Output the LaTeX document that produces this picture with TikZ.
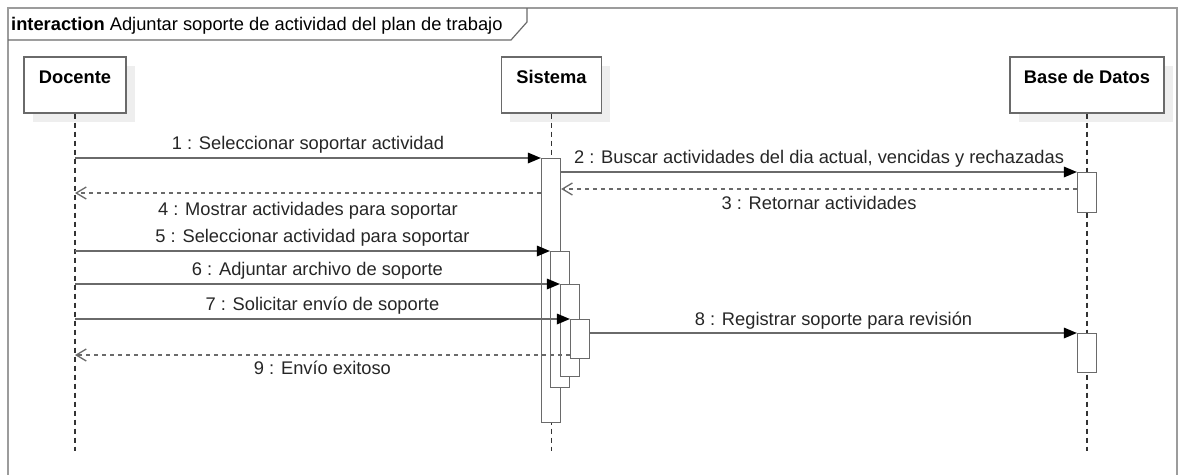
\documentclass[tikz,border=0pt]{standalone}
\usepackage{fontspec}
\setmainfont{Liberation Sans}
\usetikzlibrary{arrows.meta,calc}
\definecolor{ln}{HTML}{6A6A6A}
\definecolor{fr}{HTML}{9C9C9C}
\definecolor{sh}{HTML}{EEEEEE}
\begin{document}
\begin{tikzpicture}[x=1pt,y=-1pt,
  font=\fontsize{18.3}{21}\selectfont,
  head/.style={draw=ln, line width=1.3pt, fill=white, minimum height=56pt, inner sep=0pt,
    text height=13pt, text depth=16pt, font=\fontsize{18.3}{21}\selectfont\bfseries},
  act/.style={draw=ln, line width=1.3pt, fill=white, minimum width=19pt, inner sep=0pt, anchor=north},
  life/.style={draw=black!80, line width=1.2pt, dash pattern=on 5pt off 4pt},
  msg/.style={draw=ln, line width=1.5pt, -{Triangle[length=13pt,width=11pt,black,line width=0pt]}},
  ret/.style={draw=ln, line width=1.3pt, dash pattern=on 4pt off 4pt, -{Straight Barb[length=10pt,width=12pt,ln]}},
  lbl/.style={inner sep=0pt, text height=13pt, text depth=0pt, anchor=center, text=black!85}]
\useasboundingbox (0,0) rectangle (1178,474);
% frame
\draw[fr, line width=1.3pt] (8,8) rectangle (1177,495);
\draw[ln, line width=1.2pt] (8,40) -- (511,40) -- (527,22) -- (527,8);
\node[anchor=west, inner sep=0pt, text height=13pt, text depth=0pt] (title) at (11,24)
  {\textbf{interaction} Adjuntar soporte de actividad del plan de trabajo};
% shadows
\fill[sh] (33,66) rectangle (135,122);
\fill[sh] (510,66) rectangle (610,122);
\fill[sh] (1019,66) rectangle (1173,122);
% heads
\node[head, minimum width=102pt] (doc) at (75,85) {Docente};
\node[head, minimum width=100pt] (sis) at (551.5,85) {Sistema};
\node[head, minimum width=154pt] (bd) at (1087,85) {Base de Datos};
\coordinate (docE) at (75,451);
\coordinate (sisE) at (551.5,451);
\coordinate (bdE) at (1087,451);
\draw[life] (doc.south) -- (docE);
\draw[life] (sis.south) -- (sisE);
\draw[life] (bd.south) -- (bdE);
% activations
\node[act, minimum height=264pt] (A1) at (551,158) {};
\node[act, minimum height=136pt] (A2) at (560,251) {};
\node[act, minimum height=92pt] (A3) at (570,284) {};
\node[act, minimum height=39pt] (A4) at (580,319) {};
\node[act, minimum height=40pt] (B1) at (1087,172) {};
\node[act, minimum height=39pt] (B2) at (1087,333) {};
\coordinate (y3) at (0,189);
\coordinate (y4) at (0,193);
\coordinate (y9) at (0,355);
% messages
\draw[msg] (doc.south |- A1.north) -- (A1.north west)
  node[lbl, midway, yshift=15pt] (l1) {1 : Seleccionar soportar actividad};
\draw[msg] (A1.east |- B1.north) -- (B1.north west)
  node[lbl, midway, yshift=15pt] (l2) {2 : Buscar actividades del dia actual, vencidas y rechazadas};
\draw[ret] (B1.west |- y3) -- (A1.east |- y3)
  node[lbl, midway, yshift=-14pt] (l3) {3 : Retornar actividades};
\draw[ret] (A1.west |- y4) -- (doc.south |- y4)
  node[lbl, midway, yshift=-16pt] (l4) {4 : Mostrar actividades para soportar};
\draw[msg] (doc.south |- A2.north) -- (A2.north west)
  node[lbl, midway, yshift=15pt] (l5) {5 : Seleccionar actividad para soportar};
\draw[msg] (doc.south |- A3.north) -- (A3.north west)
  node[lbl, midway, yshift=15pt] (l6) {6 : Adjuntar archivo de soporte};
\draw[msg] (doc.south |- A4.north) -- (A4.north west)
  node[lbl, midway, yshift=15pt] (l7) {7 : Solicitar envío de soporte};
\draw[msg] (A4.east |- B2.north) -- (B2.north west)
  node[lbl, midway, yshift=14pt] (l8) {8 : Registrar soporte para revisión};
\draw[ret] (A4.west |- y9) -- (doc.south |- y9)
  node[lbl, midway, yshift=-13pt] (l9) {9 : Envío exitoso};
\end{tikzpicture}
\end{document}
